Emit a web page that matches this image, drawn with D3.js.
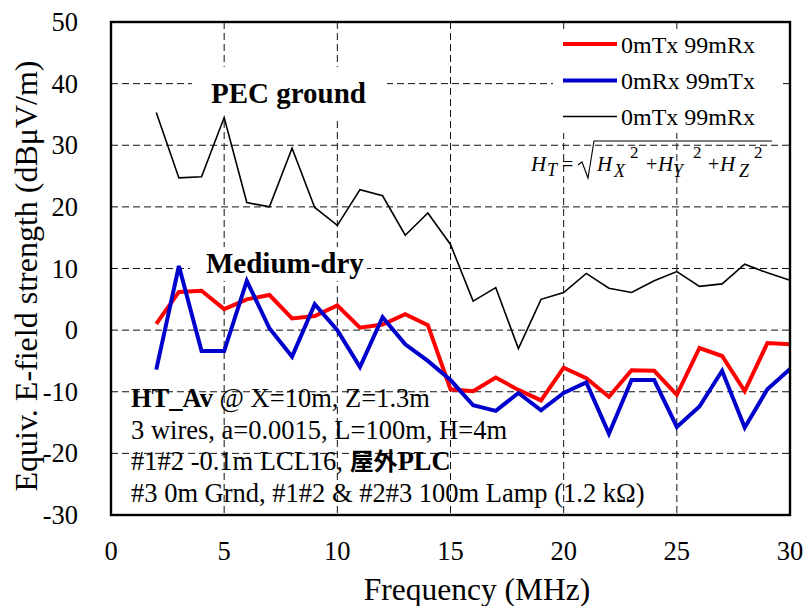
<!DOCTYPE html>
<html>
<head>
<meta charset="utf-8">
<script src="https://d3js.org/d3.v7.min.js"></script>
<style>
  body { margin: 0; background: #fff; }
  svg { display: block; font-family: "Liberation Serif", "Times New Roman", serif; }
</style>
</head>
<body>
<div id="chart"></div>
<script>
// data
const freq = [2, 3, 4, 5, 6, 7, 8, 9, 10, 11, 12, 13, 14, 15, 16, 17, 18, 19, 20, 21, 22, 23, 24, 25, 26, 27, 28, 29, 30];
const redTx = [1.0, 6.2, 6.4, 3.4, 5.0, 5.7, 1.9, 2.3, 4.0, 0.4, 0.9, 2.6, 0.8, -9.6, -9.9, -7.7, -9.7, -11.4, -6.1, -7.8, -10.8, -6.5, -6.6, -10.5, -2.9, -4.2, -9.9, -2.1, -2.3];
const blueRx = [-6.4, 10.4, -3.4, -3.4, 8.0, 0.3, -4.3, 4.2, 0.0, -6.0, 2.1, -2.3, -5.0, -8.1, -12.2, -13.1, -10.2, -13.0, -10.2, -8.5, -16.8, -8.1, -8.1, -15.7, -12.4, -6.6, -15.8, -9.6, -6.3];
const pecTx = [35.3, 24.7, 24.9, 34.5, 20.7, 20.0, 29.5, 19.9, 17.0, 22.8, 21.8, 15.4, 19.0, 13.9, 4.7, 6.9, -3.0, 5.0, 6.1, 9.2, 6.8, 6.1, 8.0, 9.5, 7.1, 7.5, 10.7, 9.3, 8.1];

const xTicks = [0, 5, 10, 15, 20, 25, 30];
const yTicks = [-30, -20, -10, 0, 10, 20, 30, 40, 50];
const seriesNames = ["0mTx 99mRx", "0mRx 99mTx", "0mTx 99mRx"];
const seriesColors = ["#ff0000", "#0000cc", "#000000"];
const seriesWidths = [4, 4, 1.6];

const width = 809, height = 606;
const margin = { top: 22, right: 19, bottom: 91, left: 111 };
const innerW = width - margin.left - margin.right;
const innerH = height - margin.top - margin.bottom;

const svg = d3.select("#chart").append("svg")
  .attr("width", width).attr("height", height);

const x = d3.scaleLinear().domain([0, 30]).range([margin.left, margin.left + innerW]);
const y = d3.scaleLinear().domain([-30, 50]).range([margin.top + innerH, margin.top]);

// grid
const grid = svg.append("g").attr("stroke", "#111").attr("stroke-width", 1).attr("stroke-dasharray", "7,4");
grid.selectAll(".gx").data(xTicks.slice(1, -1)).enter().append("line")
  .attr("x1", d => x(d)).attr("x2", d => x(d))
  .attr("y1", y(50)).attr("y2", y(-30));
grid.selectAll(".gy").data(yTicks.slice(1, -1)).enter().append("line")
  .attr("x1", x(0)).attr("x2", x(30))
  .attr("y1", d => y(d)).attr("y2", d => y(d));

// white label boxes that hide the grid
svg.append("rect").attr("x", 192).attr("y", 67).attr("width", 195).attr("height", 51).attr("fill", "#fff");
svg.append("rect").attr("x", 190).attr("y", 247).attr("width", 177).attr("height", 34).attr("fill", "#fff");
svg.append("rect").attr("x", 553).attr("y", 31).attr("width", 230).attr("height", 102).attr("fill", "#fff");

// series lines
const line = d3.line().x((d, i) => x(freq[i])).y(d => y(d));
const series = [pecTx, redTx, blueRx];
const seriesIdx = [2, 0, 1];
series.forEach((s, k) => {
  const j = seriesIdx[k];
  svg.append("path").datum(s)
    .attr("d", line)
    .attr("fill", "none")
    .attr("stroke", seriesColors[j])
    .attr("stroke-width", seriesWidths[j])
    .attr("stroke-linejoin", "miter");
});

// frame
svg.append("rect")
  .attr("x", margin.left).attr("y", margin.top)
  .attr("width", innerW).attr("height", innerH)
  .attr("fill", "none").attr("stroke", "#000").attr("stroke-width", 2.4);

// axes labels
svg.append("g").selectAll("text").data(xTicks).enter().append("text")
  .attr("x", d => x(d)).attr("y", 560)
  .attr("text-anchor", "middle").attr("font-size", 26.5)
  .text(d => d);
svg.append("g").selectAll("text").data(yTicks).enter().append("text")
  .attr("x", 78).attr("y", d => y(d) + 9)
  .attr("text-anchor", "end").attr("font-size", 26.5)
  .text(d => d);

svg.append("text")
  .attr("x", 477).attr("y", 600)
  .attr("text-anchor", "middle").attr("font-size", 31.5)
  .text("Frequency (MHz)");
svg.append("text")
  .attr("transform", "translate(37,276) rotate(-90)")
  .attr("text-anchor", "middle").attr("font-size", 32)
  .text("Equiv. E-field strength (dBμV/m)");

// legend
const legend = svg.append("g");
seriesNames.forEach((name, i) => {
  const ly = [44, 80.5, 116.5][i];
  legend.append("line")
    .attr("x1", 563).attr("x2", 617).attr("y1", ly).attr("y2", ly)
    .attr("stroke", seriesColors[i]).attr("stroke-width", i < 2 ? 4 : 1.6);
  legend.append("text")
    .attr("x", 621).attr("y", ly + 8.5).attr("font-size", 24)
    .text(name);
});

// formula H_T = sqrt(Hx^2 + Hy^2 + Hz^2)
const fm = svg.append("g");
const fx = 531, fy = 171;
const pieces = [
  ["H", 0, 0, 21], ["T", 16, 5, 18], ["=", 31, 0, 20],
  ["H", 66, 0, 21], ["X", 83, 6, 18], ["2", 99, -13, 17], ["+", 115, 0, 20],
  ["H", 127, 0, 21], ["Y", 142, 6, 18], ["2", 162, -13, 17], ["+", 177, 0, 20],
  ["H", 189, 0, 21], ["Z", 208, 6, 18], ["2", 223, -13, 17]
];
pieces.forEach(p => {
  fm.append("text").attr("x", fx + p[1]).attr("y", fy + p[2])
    .attr("font-size", p[3])
    .attr("font-style", p[0] === "=" || p[0] === "+" || p[0] === "2" ? "normal" : "italic")
    .text(p[0]);
});
svg.append("path")
  .attr("d", `M${fx + 47},${fy - 6} l4,-3 l6,16 l6,-37 H${fx + 241}`)
  .attr("fill", "none").attr("stroke", "#000").attr("stroke-width", 1.1);

// big labels
svg.append("text").attr("x", 211).attr("y", 103)
  .attr("font-size", 29).attr("font-weight", "bold").text("PEC ground");
svg.append("text").attr("x", 206).attr("y", 273)
  .attr("font-size", 29).attr("font-weight", "bold").text("Medium-dry");

// annotation block
const note = svg.append("g").attr("font-size", 26.5);
const t1 = note.append("text").attr("x", 131).attr("y", 407);
t1.append("tspan").attr("font-weight", "bold").text("HT_Av");
t1.append("tspan").text(" @ X=10m, Z=1.3m");
note.append("text").attr("x", 131).attr("y", 438.5).text("3 wires, a=0.0015, L=100m, H=4m");
const t3 = note.append("text").attr("x", 131).attr("y", 470);
t3.append("tspan").text("#1#2 -0.1m LCL16, ");
t3.append("tspan").attr("font-weight", "bold")
  .attr("font-family", "'Noto Sans CJK JP', 'Noto Sans CJK SC', sans-serif").attr("font-size", 24).text("屋外");
t3.append("tspan").attr("font-weight", "bold").text("PLC");
note.append("text").attr("x", 131).attr("y", 501.5).text("#3 0m Grnd, #1#2 & #2#3 100m Lamp (1.2 kΩ)");
</script>
</body>
</html>
